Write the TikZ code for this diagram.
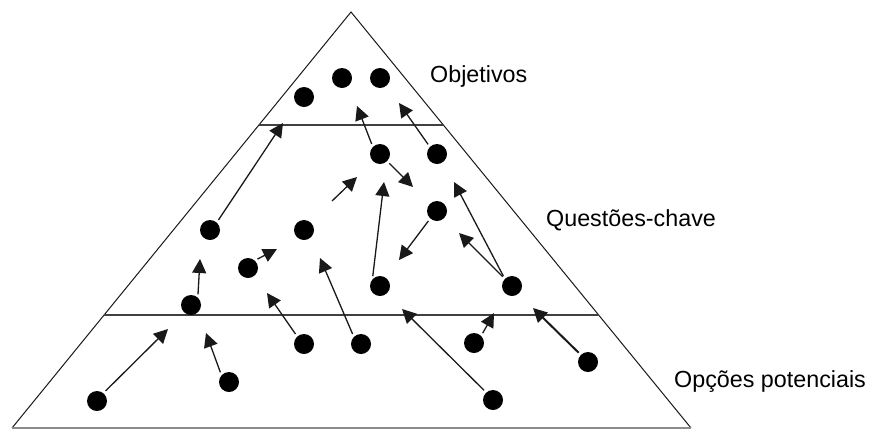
\documentclass[tikz,border=0pt]{standalone}
\usepackage{fontspec}
\setmainfont{Liberation Sans}
\usetikzlibrary{arrows.meta,calc}
\begin{document}
\begin{tikzpicture}[x=1pt,y=-1pt,
  dot/.style={circle,fill=black,minimum size=20pt,inner sep=0pt},
  side/.style={line width=1pt,black!90},
  level/.style={line width=1.1pt,black!75},
  basel/.style={line width=1.3pt,black!45},
  arr/.style={line width=1.3pt,black!90,-{Triangle[length=14pt,width=14pt]},shorten <=3pt},
  lbl/.style={anchor=base west,inner sep=0pt,font=\fontsize{23.3}{28}\selectfont}]
\useasboundingbox (0,0) rectangle (869,429);
% pyramid
\coordinate (apex) at (351,12);
\coordinate (bl) at (12,428);
\coordinate (br) at (691,428);
\coordinate (l1) at ($(apex)!0.2716!(bl)$);
\coordinate (r1) at ($(apex)!0.2716!(br)$);
\coordinate (l2) at ($(apex)!0.7284!(bl)$);
\coordinate (r2) at ($(apex)!0.7284!(br)$);
\draw[side] (bl) -- (apex) -- (br);
\draw[basel] (bl) -- (br);
\draw[level] (l1) -- (r1);
\draw[level] (l2) -- (r2);
% labels
\node[lbl] (tobj) at (430,82) {Objetivos};
\node[lbl] (tque) at (546,226) {Questões-chave};
\node[lbl] (topc) at (674,387) {Opções potenciais};
% dots
\node[dot] (d1) at (304,97) {};
\node[dot] (d2) at (342,78) {};
\node[dot] (d3) at (380,78) {};
\node[dot] (d4) at (380,154) {};
\node[dot] (d5) at (437,154) {};
\node[dot] (d6) at (437,211) {};
\node[dot] (d13) at (210,230) {};
\node[dot] (d14) at (304,230) {};
\node[dot] (d15) at (248,268) {};
\node[dot] (d16) at (191,305) {};
\node[dot] (d7) at (380,286) {};
\node[dot] (d8) at (512,286) {};
\node[dot] (d17) at (304,344) {};
\node[dot] (d18) at (361,344) {};
\node[dot] (d10) at (474,343) {};
\node[dot] (d11) at (588,362) {};
\node[dot] (d19) at (229,382) {};
\node[dot] (d20) at (97,401) {};
\node[dot] (d12) at (493,400) {};
% arrow tips / free ends
\coordinate (t1) at (283,123);
\coordinate (t2) at (357,106);
\coordinate (t3) at (399,103);
\coordinate (t4) at (413,187);
\coordinate (s5) at (332,201);
\coordinate (t5) at (357,177);
\coordinate (t6) at (384,182);
\coordinate (t7) at (399,260);
\coordinate (t8) at (454,182);
\coordinate (t9) at (459,233);
\coordinate (t10) at (200,259);
\coordinate (t11) at (277,249);
\coordinate (t12) at (267,293);
\coordinate (t13) at (320,258);
\coordinate (t14) at (168,329);
\coordinate (t15) at (206,333);
\coordinate (t16) at (402,309);
\coordinate (t17) at (494,313);
\coordinate (t18) at (533,308);
% arrows
\draw[arr] (d13.48) -- (t1);
\draw[arr] (d4.135) -- (t2);
\draw[arr] (d5.135) -- (t3);
\draw[arr] (d4.-45) -- (t4);
\draw[arr,shorten <=0pt] (s5) -- (t5);
\draw[arr] (d7.138) -- (t6);
\draw[arr] (d6.228) -- (t7);
\draw[arr] (d8.135) -- (t8);
\draw[arr] (d8.135) -- (t9);
\draw[arr] (d16.48) -- (t10);
\draw[arr] (d15.48) -- (t11);
\draw[arr] (d17.132) -- (t12);
\draw[arr] (d18.135) -- (t13);
\draw[arr] (d20.51) -- (t14);
\draw[arr] (d19.138) -- (t15);
\draw[arr] (d12.132) -- (t16);
\draw[arr] (d10.45) -- (t17);
\draw[arr,line width=2pt] (d11.135) -- (t18);
\end{tikzpicture}
\end{document}
